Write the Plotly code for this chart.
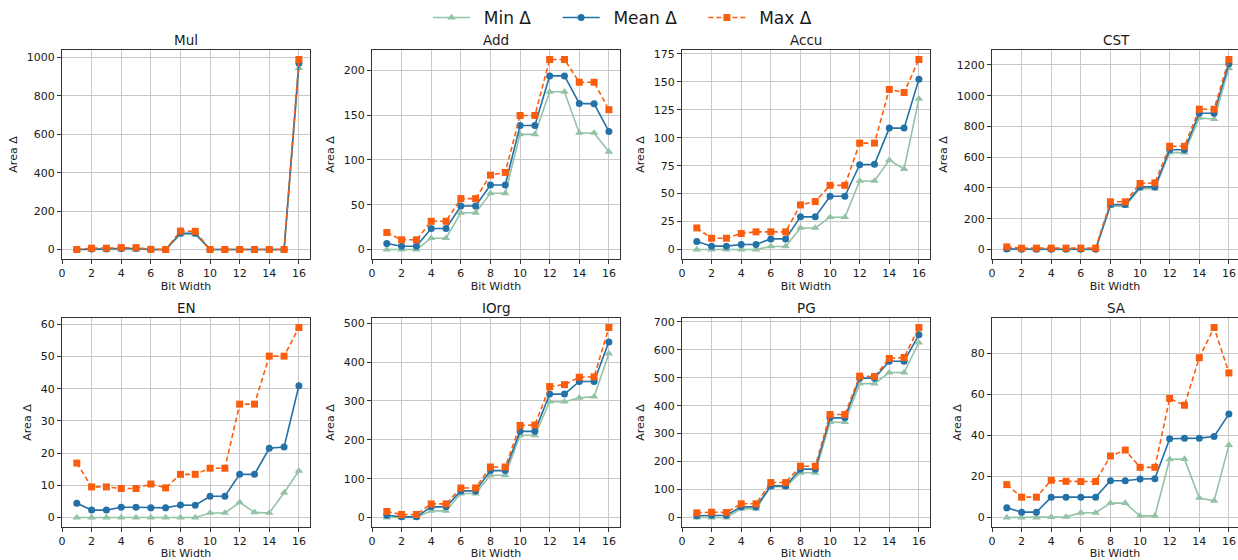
import plotly.graph_objects as go

bits = list(range(1, 17))
panel_names = ["Mul", "Add", "Accu", "CST", "EN", "IOrg", "PG", "SA"]
x_ticks = [0, 2, 4, 6, 8, 10, 12, 14, 16]

mul_min = [0, 0, 0, 0, 0, 0, 0, 78, 78, 0, 0, 0, 0, 0, 0, 945]
mul_mean = [0, 3, 3, 5, 5, 0, 0, 85, 85, 0, 0, 0, 0, 0, 0, 970]
mul_max = [0, 7, 7, 10, 10, 1, 0, 96, 95, 0, 0, 0, 0, 0, 0, 990]

add_min = [0, 0, 0, 12.6, 12.6, 41, 41, 62.7, 62.7, 128.4, 128.4, 176, 176, 130, 130, 109]
add_mean = [6.7, 3.7, 3.7, 23.4, 23.4, 48.6, 48.6, 72, 72, 138.4, 138.4, 193.7, 193.7, 163, 162.5, 131.7]
add_max = [19, 10.8, 10.8, 31.5, 31.5, 56.8, 56.8, 83, 86, 149.5, 149.5, 212, 212, 186.6, 186.6, 156]

accu_min = [0, 0, 0, 0, 0, 2.7, 2.7, 19.3, 19.3, 28.9, 28.9, 61.3, 61.3, 80, 72, 134.8]
accu_mean = [7.1, 3, 3, 4.5, 4.5, 9.5, 9.5, 29.2, 29.2, 47.6, 47.6, 75.9, 76.2, 108.6, 108.6, 152.4]
accu_max = [19.3, 10.1, 10.1, 14.3, 15.8, 15.8, 15.8, 39.9, 42.9, 57.4, 57.4, 95.2, 95.2, 143.2, 140.5, 170]

cst_min = [0, 0, 0, 0, 0, 0, 0, 282, 282, 396, 396, 630, 630, 855, 847, 1178]
cst_mean = [4, 2, 2, 2, 2, 2, 2, 292, 292, 407, 407, 648, 648, 886, 886, 1208]
cst_max = [17, 9, 9, 9, 9, 9, 9, 310, 310, 429, 433, 671, 671, 912, 912, 1235]

en_min = [0, 0, 0, 0, 0, 0, 0, 0, 0, 1.4, 1.4, 4.7, 1.6, 1.4, 7.7, 14.5]
en_mean = [4.4, 2.3, 2.3, 3.2, 3.2, 3.0, 3.0, 3.9, 3.8, 6.6, 6.6, 13.4, 13.4, 21.5, 21.9, 40.9]
en_max = [16.9, 9.5, 9.5, 9.0, 9.0, 10.4, 9.2, 13.4, 13.4, 15.3, 15.3, 35.2, 35.2, 50.1, 50.1, 59]

iorg_min = [0, 0, 0, 17, 17, 61.6, 61.6, 108.7, 108.7, 211.5, 211.5, 298, 298, 308, 311, 422]
iorg_mean = [6, 1.7, 1.7, 27.4, 27.4, 68.5, 68.5, 120.7, 120.7, 221.7, 221.7, 317.6, 317.6, 350, 350, 452]
iorg_max = [15.4, 7.7, 7.7, 35, 35, 76, 76, 130, 130, 237, 238, 337, 342, 361, 362, 489]

pg_min = [0, 0, 0, 31, 31, 110, 110, 160, 160, 341, 341, 479, 479, 518.7, 518.7, 626]
pg_mean = [6, 8.3, 8.3, 38, 38, 113, 113, 173, 173, 356.5, 356.5, 498.5, 498.5, 559, 559, 653.5]
pg_max = [16.7, 19, 18, 49, 49, 125, 125, 183.6, 183.6, 368.5, 368.5, 505.6, 504.4, 569, 572.4, 679.7]

sa_min = [0, 0, 0, 0.2, 0.3, 2.3, 2.3, 7, 7, 0.8, 0.8, 28.3, 28.4, 9.5, 8.1, 35.2]
sa_mean = [4.7, 2.6, 2.6, 9.9, 9.9, 9.9, 9.9, 17.9, 17.9, 18.7, 18.9, 38.3, 38.5, 38.6, 39.4, 50.3]
sa_max = [16, 9.9, 9.9, 18.1, 17.6, 17.5, 17.5, 29.9, 32.8, 24.4, 24.4, 57.9, 54.6, 77.7, 92.4, 70.3]

y_dticks = [200, 50, 25, 200, 10, 100, 100, 20]

panels = [
    (mul_min, mul_mean, mul_max),
    (add_min, add_mean, add_max),
    (accu_min, accu_mean, accu_max),
    (cst_min, cst_mean, cst_max),
    (en_min, en_mean, en_max),
    (iorg_min, iorg_mean, iorg_max),
    (pg_min, pg_mean, pg_max),
    (sa_min, sa_mean, sa_max),
]

series_names = ["Min Δ", "Mean Δ", "Max Δ"]
series_colors = ["#93c2a6", "#2471a8", "#fb5d0e"]
series_symbols = ["triangle-up", "circle", "square"]
series_dash = ["solid", "solid", "5px,3px"]

NB = "\u00a0"
def legend_label(s, trail):
    return NB + "\u2009" + s.replace(" ", NB) + NB * trail

legend_trail = [4, 4, 4]

W, H = 1238, 560
col_left = [62, 372, 682, 992]
col_width = 248
row_top = [50, 318]
row_bottom = [259, 527]
unit_px = col_width / 16.75

FONT = "DejaVu Sans"
fig = go.Figure()
annotations = []

for i, (name, vals) in enumerate(zip(panel_names, panels)):
    r, c = divmod(i, 4)
    k = i + 1
    xa = "x" if k == 1 else f"x{k}"
    ya = "y" if k == 1 else f"y{k}"
    left = col_left[c]
    right = min(left + col_width, W)
    xdom = [left / W, right / W]
    ydom = [(H - row_bottom[r]) / H, (H - row_top[r]) / H]
    xmax = (right - left) / unit_px

    allv = [v for s in vals for v in s]
    lo, hi = min(allv), max(allv)
    pad = 0.05 * (hi - lo)

    for j in range(3):
        fig.add_trace(go.Scatter(
            x=bits, y=vals[j], xaxis=xa, yaxis=ya,
            mode="lines+markers", name=legend_label(series_names[j], legend_trail[j]),
            legendgroup=series_names[j], showlegend=(i == 0),
            line=dict(color=series_colors[j], width=1.6, dash=series_dash[j]),
            marker=dict(color=series_colors[j], symbol=series_symbols[j],
                        size=7 if j != 0 else 7.5, line=dict(width=0)),
        ))

    axis_common = dict(
        showline=True, linecolor="#333333", linewidth=1,
        ticks="outside", ticklen=4, tickwidth=1, tickcolor="#333333",
        showgrid=True, gridcolor="#c8c8c8", gridwidth=1,
        zeroline=False, automargin=False,
        tickfont=dict(family=FONT, size=11, color="#1a1a1a"),
    )
    fig.layout[f"xaxis{'' if k == 1 else k}"] = dict(
        axis_common, domain=xdom, anchor=ya, range=[0, xmax],
        tickmode="array", tickvals=x_ticks, mirror=True,
        title=dict(text="Bit Width", standoff=3,
                   font=dict(family=FONT, size=11, color="#1a1a1a")),
    )
    fig.layout[f"yaxis{'' if k == 1 else k}"] = dict(
        axis_common, domain=ydom, anchor=xa, range=[lo - pad, hi + pad],
        tick0=0, dtick=y_dticks[i], mirror=(right - left == col_width),
        title=dict(text="Area Δ", standoff=6,
                   font=dict(family=FONT, size=11, color="#1a1a1a")),
    )
    annotations.append(dict(
        text=name, showarrow=False, xref="paper", yref="paper",
        x=(left + left + col_width) / 2 / W, y=ydom[1], xanchor="center",
        yanchor="middle", yshift=10.5,
        font=dict(family=FONT, size=13.5, color="#1a1a1a"),
    ))

fig.update_layout(
    width=W, height=H,
    margin=dict(l=0, r=0, t=0, b=0),
    paper_bgcolor="white", plot_bgcolor="white",
    annotations=annotations,
    legend=dict(orientation="h", x=428 / W, xanchor="left", y=1.0, yanchor="top",
                font=dict(family=FONT, size=17, color="#1a1a1a"),
                itemwidth=37, bgcolor="rgba(0,0,0,0)"),
    font=dict(family=FONT),
)

fig.write_html("out.html")
